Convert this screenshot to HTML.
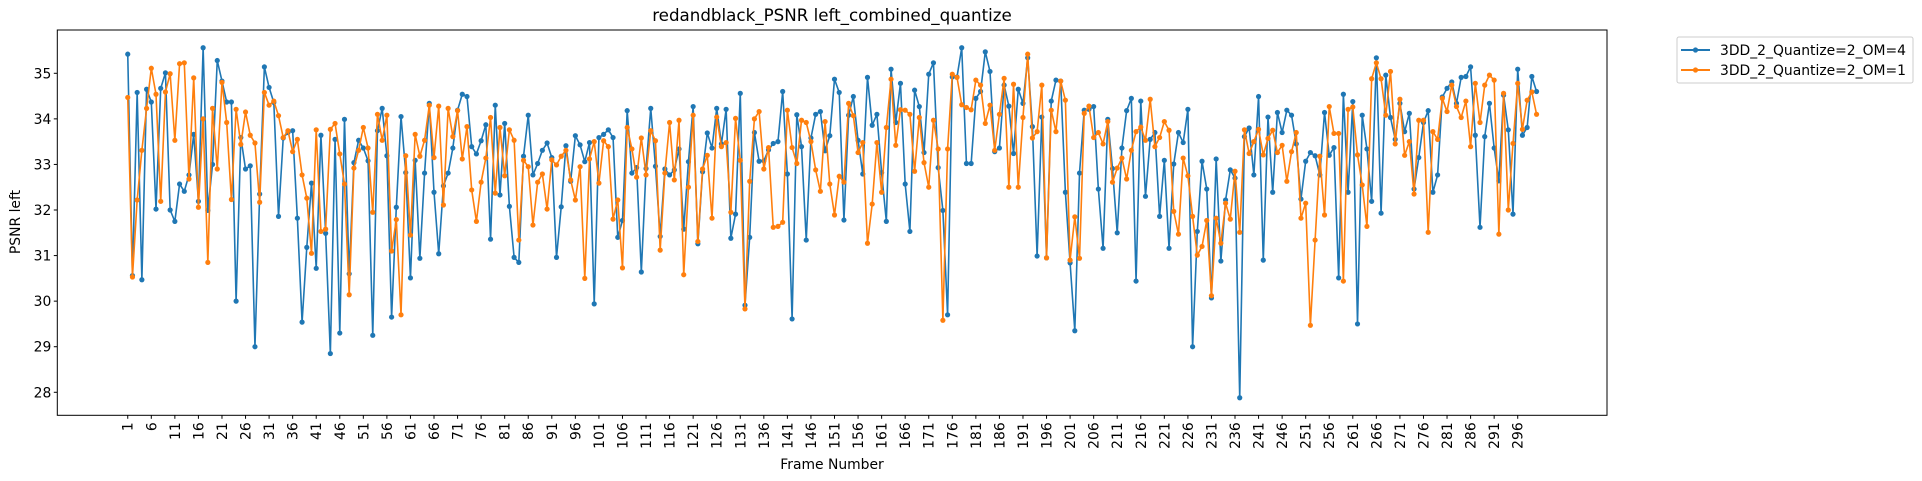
<!DOCTYPE html>
<html><head><meta charset="utf-8">
<style>
html,body{margin:0;padding:0;background:#fff;}
svg{display:block;font-family:"DejaVu Sans","Liberation Sans",sans-serif;}
</style></head>
<body>
<svg id="chart" width="1922" height="481" viewBox="0 0 1922 481" xmlns="http://www.w3.org/2000/svg">
<rect x="0" y="0" width="1922" height="481" fill="#fff"/>
<text x="832" y="21" font-size="16.7" text-anchor="middle" fill="#000">redandblack_PSNR left_combined_quantize</text>
<g id="grid-layer"></g>
<g id="series-layer"></g>
<rect x="57.3" y="30" width="1549.7" height="385.3" fill="none" stroke="#000" stroke-width="1"/>
<g id="axes-layer"></g>
<text x="832" y="469" font-size="13.9" text-anchor="middle" fill="#000">Frame Number</text>
<text transform="translate(20,222) rotate(-90)" font-size="13.9" text-anchor="middle" fill="#000">PSNR left</text>
<g>
<rect x="1677" y="37" width="236" height="46" rx="2" fill="#fff" stroke="#ccc" stroke-width="1"/>
<g>
<line x1="1681" y1="50" x2="1710" y2="50" stroke="#1f77b4" stroke-width="2"/>
<circle cx="1695.5" cy="50" r="2.6" fill="#1f77b4"/>
<text x="1720" y="55" font-size="13.9" fill="#000">3DD_2_Quantize=2_OM=4</text>
</g>
<g>
<line x1="1681" y1="70" x2="1710" y2="70" stroke="#ff7f0e" stroke-width="2"/>
<circle cx="1695.5" cy="70" r="2.6" fill="#ff7f0e"/>
<text x="1720" y="75" font-size="13.9" fill="#000">3DD_2_Quantize=2_OM=1</text>
</g>
</g>
</svg>
<script>
const seriesOM4 = [35.42,30.56,34.58,30.47,34.65,34.37,32.02,34.67,35.01,32.0,31.75,32.57,32.41,32.77,33.66,32.19,35.56,31.99,33.0,35.28,34.83,34.37,34.37,30.0,33.59,32.9,32.97,29.0,32.35,35.14,34.69,34.36,31.86,33.58,33.7,33.74,
31.82,29.54,31.18,32.59,30.72,33.64,31.49,28.85,33.55,29.3,33.99,30.6,33.04,33.53,33.36,33.08,29.25,33.74,34.23,33.19,29.65,32.06,34.05,32.82,30.51,33.09,30.94,32.81,34.34,32.39,31.04,32.53,32.81,33.36,34.19,34.54,34.49,33.39,33.23,33.52,33.87,31.36,
34.3,32.33,33.9,32.08,30.96,30.85,33.18,34.08,32.77,33.02,33.31,33.47,33.15,30.96,32.07,33.41,32.63,33.63,33.43,33.06,33.48,29.94,33.59,33.66,33.76,33.59,31.4,31.77,34.18,32.81,32.93,30.64,32.91,34.23,32.96,31.42,32.9,32.77,32.88,33.34,31.58,
33.06,34.27,31.26,32.84,33.69,33.36,34.23,33.45,34.21,31.38,31.91,34.56,29.91,31.4,33.7,33.07,33.08,33.32,33.46,33.5,34.6,32.79,29.61,34.09,33.39,31.34,33.58,34.1,34.16,33.3,33.63,34.87,34.58,31.78,34.08,34.49,33.53,32.79,34.91,33.86,34.1,
32.82,31.75,35.09,33.92,34.78,32.57,31.53,34.63,34.27,33.26,34.98,35.23,32.93,31.99,29.7,34.92,34.92,35.56,33.02,33.02,34.45,34.6,35.47,35.04,33.28,33.36,34.74,34.28,33.24,34.65,34.34,35.34,33.83,30.99,34.04,30.95,34.39,34.85,34.83,32.39,30.84,29.35,
32.81,34.19,34.21,34.27,32.46,31.16,33.99,32.91,31.5,33.36,34.18,34.45,30.44,34.39,32.3,33.55,33.7,31.86,33.09,31.16,33.01,33.7,33.48,34.21,29.0,31.53,33.07,32.46,30.07,33.12,30.88,32.22,32.88,32.7,27.88,33.61,33.8,32.77,34.49,30.9,34.04,
32.39,34.14,33.7,34.19,34.08,33.45,32.24,33.07,33.26,33.19,32.77,34.14,33.2,33.37,30.51,34.54,32.39,34.38,29.5,34.08,33.34,32.19,35.34,31.93,34.96,34.03,33.55,34.34,33.72,34.12,32.46,33.15,33.92,34.18,32.39,32.77,34.48,34.67,34.81,34.34,34.91,
34.93,35.14,33.64,31.62,33.61,34.34,33.36,32.64,34.52,33.76,31.91,35.09,33.64,33.81,34.93,34.6];
const seriesOM1 = [34.47,30.53,32.22,33.31,34.23,35.11,34.54,32.19,34.59,34.99,33.53,35.21,35.23,32.68,34.9,32.06,34.0,30.85,34.23,32.9,34.8,33.92,32.23,34.21,33.44,34.15,33.64,33.47,32.17,34.58,34.3,34.39,34.07,33.59,33.74,33.28,
33.55,32.77,32.26,31.05,33.76,31.53,31.58,33.77,33.9,33.23,32.57,30.14,32.92,33.31,33.81,33.36,31.95,34.1,33.53,34.08,31.1,31.79,29.7,33.19,31.45,33.66,33.18,33.53,34.3,33.15,34.28,32.11,34.23,33.61,34.18,33.12,33.83,32.44,31.75,32.61,33.14,34.03,
32.37,33.81,32.75,33.76,33.53,31.34,33.09,32.95,31.67,32.61,32.79,32.02,33.1,32.99,33.18,33.31,32.66,32.22,32.95,30.5,33.12,33.5,32.59,33.52,33.39,31.8,32.22,30.73,33.81,33.34,32.72,33.58,32.77,33.74,33.52,31.12,32.81,33.92,32.66,33.97,30.58,
32.5,34.08,31.31,32.9,33.2,31.82,34.04,33.39,33.48,31.95,34.01,33.09,29.83,32.63,34.0,34.16,32.9,33.37,31.62,31.64,31.73,34.19,33.37,33.02,33.97,33.92,33.5,32.88,32.41,33.94,32.57,31.89,32.74,32.61,34.34,34.07,33.26,33.48,31.27,32.13,33.48,
32.39,33.81,34.87,33.42,34.2,34.19,34.1,32.85,34.03,33.04,32.5,33.97,33.34,29.58,33.34,34.98,34.91,34.31,34.25,34.2,34.85,34.74,33.9,34.3,33.31,34.1,34.89,32.5,34.76,32.5,34.03,35.42,33.58,33.72,34.74,30.95,34.19,33.72,34.83,34.41,30.9,31.85,
30.94,34.12,34.28,33.59,33.7,33.45,33.94,32.61,32.92,33.14,32.68,33.31,33.72,33.82,33.53,34.43,33.39,33.59,33.94,33.75,31.97,31.47,33.14,32.75,31.86,31.01,31.2,31.77,30.12,31.82,31.27,32.15,31.8,32.85,31.51,33.76,33.24,33.5,33.77,33.21,33.57,
33.75,33.26,33.42,32.63,33.28,33.7,31.82,32.15,29.47,31.34,33.18,31.89,34.27,33.68,33.68,30.44,34.21,34.26,33.21,32.55,31.64,34.88,35.23,34.88,34.08,35.04,33.45,34.43,33.2,33.5,32.35,33.97,33.97,31.51,33.72,33.55,34.45,34.16,34.74,34.27,34.03,
34.39,33.39,34.78,33.92,34.74,34.96,34.85,31.47,34.56,32.0,33.46,34.78,33.77,34.41,34.59,34.1];
const yTicks = [28,29,30,31,32,33,34,35];
const xTickStep = 5;

const NS = "http://www.w3.org/2000/svg";
const plotL = 57.3, plotR = 1607, plotT = 30, plotB = 415.3;
const n = seriesOM4.length;
const xMin = 1 - 0.05*(n-1), xMax = n + 0.05*(n-1);
const yMin = 27.495, yMax = 35.95;
function xScale(f){ return plotL + (f - xMin)/(xMax - xMin)*(plotR - plotL); }
function yScale(v){ return plotB - (v - yMin)/(yMax - yMin)*(plotB - plotT); }
function mk(tag, attrs, parent){ const e=document.createElementNS(NS,tag); for(const k in attrs) e.setAttribute(k, attrs[k]); parent.appendChild(e); return e; }

const axes = document.getElementById('axes-layer');
yTicks.forEach(v=>{
  const y = yScale(v);
  const t = mk('line',{x1:plotL-3.5,x2:plotL,y1:y,y2:y,stroke:'#000','stroke-width':1},axes);
  
  
  const lb = mk('text',{x:plotL-6,y:y+5,'font-size':13.9,'text-anchor':'end',fill:'#000'},axes);
  
  
  lb.textContent = v;
});
for(let f=1; f<=n; f+=xTickStep){
  const x = xScale(f);
  const t = mk('line',{x1:x,x2:x,y1:plotB,y2:plotB+3.5,stroke:'#000','stroke-width':1},axes);
  
  
  const lb = mk('text',{transform:`translate(${x+5},${plotB+7}) rotate(-90)`,'font-size':13.9,'text-anchor':'end',fill:'#000'},axes);
  
  
  lb.textContent = f;
}

const layer = document.getElementById('series-layer');
function drawSeries(vals, color, name){
  const g = mk('g',{},layer);
  
  
  const pts = vals.map((v,i)=>xScale(i+1).toFixed(2)+','+yScale(v).toFixed(2)).join(' ');
  const pl = mk('polyline',{points:pts,fill:'none',stroke:color,'stroke-width':1.6,'stroke-linejoin':'round'},g);
  
  
  vals.forEach((v,i)=>{
    const c = mk('circle',{cx:xScale(i+1),cy:yScale(v),r:2.6,fill:color},g);
    
    
  });
}
drawSeries(seriesOM4,'#1f77b4','series-om4');
drawSeries(seriesOM1,'#ff7f0e','series-om1');
</script>
</body></html>
